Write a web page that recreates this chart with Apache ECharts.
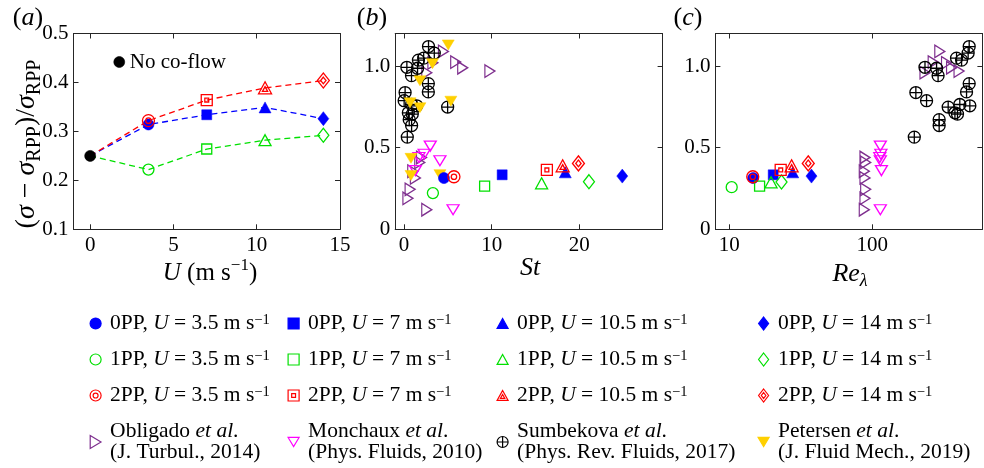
<!DOCTYPE html>
<html><head><meta charset="utf-8">
<script src="https://cdn.jsdelivr.net/npm/echarts@6/dist/echarts.min.js"></script>
<style>html,body{margin:0;padding:0;background:#fff}#c{width:984px;height:468px}</style>
</head><body><div id="c"></div>
<script>
const FONT = 'Liberation Serif';
// ---------- data ----------
// panel (a): U (m/s)
const U = [3.5, 7, 10.5, 14];
const noCoflow = [0, 0.25];
const y0PP = [0.314, 0.334, 0.349, 0.326];
const y1PP = [0.222, 0.264, 0.282, 0.292];
const y2PP = [0.322, 0.364, 0.389, 0.404];
// panel (b): St
const St0PP = [4.56, 11.2, 18.4, 24.9];
const St1PP = [3.3, 9.2, 15.7, 21.1];
const St2PP = [5.7, 16.3, 18.1, 19.9];
// panel (c): Re_lambda
const Re0PP = [14.7, 20.3, 27.8, 37.6];
const Re1PP = [10.4, 16.3, 19.6, 23.2];
const Re2PP = [14.6, 22.9, 27.3, 35.7];
const yRe1PP = [0.258, 0.264, 0.288, 0.290];
// literature
const oblSt = [4.5, 5.9, 3.3, 6.7, 9.8, 2.6, 2.0, 1.8, 1.0, 1.3, 0.7, 0.45, 2.6];
const oblRe = [297, 267, 331, 359, 405, 234, 89, 90, 88, 89, 90, 89, 88];
const oblY  = [1.09, 1.025, 1.02, 0.99, 0.97, 0.96, 0.44, 0.41, 0.356, 0.315, 0.245, 0.19, 0.12];
const monSt = [3.0, 2.3, 1.7, 4.1, 1.3, 5.6];
const monRe = [114, 115, 113, 114, 116, 114];
const monY  = [0.51, 0.46, 0.44, 0.42, 0.36, 0.12];
const sumSt = [2.8, 3.46, 2.25, 1.65, 0.33, 1.55, 0.86, 2.78, 2.78, 0.13, 0.02, 0.87, 1.45, 4.98, 0.5, 0.95, 0.6, 0.87, 0.38];
const sumRe = [477, 469, 389, 422, 234, 282, 289, 477, 457, 202, 240, 410, 482, 340, 379, 395, 294, 294, 197];
const sumY  = [1.12, 1.08, 1.049, 1.037, 0.993, 0.987, 0.942, 0.893, 0.842, 0.838, 0.788, 0.765, 0.757, 0.749, 0.714, 0.706, 0.672, 0.636, 0.565];
const petSt = [5.05, 3.25, 1.82, 0.7, 1.82, 5.35, 0.8, 0.8, 4.1];
const petY  = [1.13, 1.015, 0.91, 0.775, 0.745, 0.785, 0.435, 0.33, 0.335];
// tick values
const ticksU = [0, 5, 10, 15];
const ticksSt = [0, 10, 20];
const ticksYa = [0.1, 0.2, 0.3, 0.4, 0.5];
const ticksYbc = [0, 0.5, 1.0];

// ---------- symbols ----------
function circ(cx, cy, r) {
  const k = 0.5523 * r;
  return `M${cx-r},${cy}C${cx-r},${cy-k} ${cx-k},${cy-r} ${cx},${cy-r}C${cx+k},${cy-r} ${cx+r},${cy-k} ${cx+r},${cy}C${cx+r},${cy+k} ${cx+k},${cy+r} ${cx},${cy+r}C${cx-k},${cy+r} ${cx-r},${cy+k} ${cx-r},${cy}Z`;
}
const SYM = {
  circle: 'path://' + circ(10, 10, 10),
  dcircle: 'path://' + circ(10, 10, 10) + circ(10, 10, 4.5),
  square: 'path://M0,0L20,0L20,20L0,20Z',
  dsquare: 'path://M0,0L20,0L20,20L0,20ZM6.5,6.5L13.5,6.5L13.5,13.5L6.5,13.5Z',
  tri: 'path://M10,0L20,18L0,18Z',
  dtri: 'path://M10,0L20,18L0,18ZM10,7.2L14,14.4L6,14.4Z',
  diam: 'path://M10,0L20,13L10,26L0,13Z',
  ddiam: 'path://M10,0L20,13L10,26L0,13ZM10,7.2L14.5,13L10,18.8L5.5,13Z',
  right: 'path://M0,0L16.6,10L0,20Z',
  down: 'path://M0,0L20,0L10,16.6Z',
  oplus: 'path://' + circ(10, 10, 10) + 'M10,0L10,20M0,10L20,10'
};
const SIZE = {circle:[11,11], dcircle:[12,12], square:[10,10], dsquare:[11,11], tri:[12,11], dtri:[13,12],
  diam:[11,14], ddiam:[12,15], right:[10,12.5], down:[12,10], oplus:[12,12]};

const GROUPS = [
  {key:'e0', label:'0PP', color:'#0000ff', filled:true,  syms:['circle','square','tri','diam'], yA:y0PP, St:St0PP, Re:Re0PP, yC:y0PP},
  {key:'e1', label:'1PP', color:'#00e000', filled:false, syms:['circle','square','tri','diam'], yA:y1PP, St:St1PP, Re:Re1PP, yC:yRe1PP},
  {key:'e2', label:'2PP', color:'#ff0000', filled:false, syms:['dcircle','dsquare','dtri','ddiam'], yA:y2PP, St:St2PP, Re:Re2PP, yC:y2PP}
];
const LIT = [
  {key:'obl', color:'#7e2f8e', filled:false, sym:'right', St:oblSt, Re:oblRe, y:oblY, text:'Obligado {i|et al}.\n(J. Turbul., 2014)'},
  {key:'mon', color:'#ff00ff', filled:false, sym:'down', St:monSt, Re:monRe, y:monY, text:'Monchaux {i|et al}.\n(Phys. Fluids, 2010)'},
  {key:'sum', color:'#000000', filled:false, sym:'oplus', St:sumSt, Re:sumRe, y:sumY, text:'Sumbekova {i|et al}.\n(Phys. Rev. Fluids, 2017)'},
  {key:'pet', color:'#ffd000', filled:true, sym:'down', St:petSt, Re:null, y:petY, text:'Petersen {i|et al}.\n(J. Fluid Mech., 2019)'}
];

function style(color, filled) {
  return filled ? {color: color, borderColor: color, borderWidth: 0.5, opacity: 1}
                : {color: 'rgba(255,255,255,0)', borderColor: color, borderWidth: 1.3, opacity: 1};
}
const LABELS = {};
const series = [];
function sc(name, xi, data, sym, color, filled, z) {
  series.push({type:'scatter', name: name, xAxisIndex: xi, yAxisIndex: xi, data: data,
    symbol: SYM[sym], symbolSize: SIZE[sym], itemStyle: style(color, filled), silent: true,
    emphasis: {disabled: true}, z: z || 3});
}
// dashed lines (a)
[0, 1, 2].forEach(g => {
  const G = GROUPS[g];
  series.push({type:'line', name: '_line' + g, xAxisIndex: 0, yAxisIndex: 0, silent: true,
    data: [noCoflow].concat(U.map((u, i) => [u, G.yA[i]])), symbol: 'none', showSymbol: false,
    lineStyle: {color: G.color, width: 1.3, type: [6, 4]}, z: 2});
});
sc('No co-flow', 0, [noCoflow], 'circle', '#000', true, 4);
// literature in (b), (c)
LIT.forEach(L => {
  sc(L.key, 2, L.St.map((s, i) => [s, L.y[i]]), L.sym, L.color, L.filled, 3);
  if (L.Re) sc(L.key, 4, L.Re.map((r, i) => [r, L.y[i]]), L.sym, L.color, L.filled, 3);
  LABELS[L.key] = L.text;
});
// experiments
GROUPS.forEach(G => {
  U.forEach((u, j) => {
    const name = G.key + '_' + j;
    const sym = G.syms[j];
    sc(name, 0, [[u, G.yA[j]]], sym, G.color, G.filled, 4);
    sc(name, 2, [[G.St[j], G.yA[j]]], sym, G.color, G.filled, 4);
    sc(name, 4, [[G.Re[j], G.yC[j]]], sym, G.color, G.filled, 4);
    LABELS[name] = G.label + ', {i|U} = ' + u + ' m s{s|\u22121}';
  });
});

// ---------- axes ----------
const TICKFS = 21;
const lineC = {color: '#262626', width: 1};
function xA(gi, pos, min, max, ticks, log) {
  const a = {gridIndex: gi, type: log ? 'log' : 'value', position: pos, min: min, max: max,
    axisLine: {show: true, onZero: false, lineStyle: lineC},
    axisTick: {show: true, inside: true, length: 5, lineStyle: lineC},
    axisLabel: {show: pos === 'bottom', fontFamily: FONT, fontSize: TICKFS, color: '#000', margin: 6},
    splitLine: {show: false}, minorTick: {show: false}, minorSplitLine: {show: false}};
  if (log) { a.logBase = 10; a.axisLabel.showMinLabel = false; a.axisLabel.showMaxLabel = false; }
  else { a.axisTick.customValues = ticks; a.axisLabel.customValues = ticks; }
  return a;
}
function yA(gi, pos, min, max, ticks) {
  return {gridIndex: gi, type: 'value', position: pos, min: min, max: max,
    axisLine: {show: true, onZero: false, lineStyle: lineC},
    axisTick: {show: true, inside: true, length: 5, lineStyle: lineC, customValues: ticks},
    axisLabel: {show: pos === 'left', fontFamily: FONT, fontSize: TICKFS, color: '#000', margin: 5, customValues: ticks,
      formatter: v => (Math.abs(v) < 1e-9 ? '0' : (+v).toFixed(1))},
    splitLine: {show: false}};
}
const xAxis = [
  xA(0, 'bottom', -1, 15, ticksU), xA(0, 'top', -1, 15, ticksU),
  xA(1, 'bottom', -1, 29.5, ticksSt), xA(1, 'top', -1, 29.5, ticksSt),
  xA(2, 'bottom', 8, 590, null, true), xA(2, 'top', 8, 590, null, true)
];
const yAxis = [
  yA(0, 'left', 0.1, 0.5, ticksYa), yA(0, 'right', 0.1, 0.5, ticksYa),
  yA(1, 'left', 0, 1.2, ticksYbc), yA(1, 'right', 0, 1.2, ticksYbc),
  yA(2, 'left', 0, 1.2, ticksYbc), yA(2, 'right', 0, 1.2, ticksYbc)
];
const grid = [
  {left: 73.5, top: 33.5, width: 266.5, height: 195.8},
  {left: 395.2, top: 33.5, width: 267.4, height: 195.8},
  {left: 715.4, top: 33.5, width: 267, height: 195.8}
];

// ---------- legends ----------
const ICON = {};
GROUPS.forEach(G => G.syms.forEach((s, j) => ICON[G.key + '_' + j] = SYM[s]));
LIT.forEach(L => ICON[L.key] = SYM[L.sym]);
const LEGFS = 21.5;
const legTextStyle = {fontFamily: FONT, fontSize: LEGFS, lineHeight: 21, color: '#000', padding: [0, 0, 0, 4],
  rich: {i: {fontFamily: FONT, fontSize: LEGFS, lineHeight: 21, fontStyle: 'italic', color: '#000'},
         s: {fontFamily: FONT, fontSize: 14.5, lineHeight: 13, verticalAlign: 'top', color: '#000'}}};
const cols = [
  {left: 89.5, names: ['e0_0', 'e1_0', 'e2_0', 'obl']},
  {left: 287.5, names: ['e0_1', 'e1_1', 'e2_1', 'mon']},
  {left: 496.5, names: ['e0_2', 'e1_2', 'e2_2', 'sum']},
  {left: 757.5, names: ['e0_3', 'e1_3', 'e2_3', 'pet']}
];
const legend = cols.map(c => ({
  orient: 'vertical', left: c.left, top: 312.5, height: 200, padding: 0, itemGap: 14, itemWidth: 11, itemHeight: 13,
  selectedMode: false, symbolKeepAspect: true,
  data: c.names.map(n => ({name: n, icon: ICON[n]})),
  formatter: n => LABELS[n], textStyle: legTextStyle,
  itemStyle: {borderWidth: 1.2}
}));
legend.push({orient: 'vertical', left: 113.5, top: 51, padding: 0, itemWidth: 11, itemHeight: 11, selectedMode: false,
  data: [{name: 'No co-flow', icon: SYM.circle}], textStyle: {fontFamily: FONT, fontSize: 21, lineHeight: 22, color: '#000'},
  itemStyle: {borderWidth: 0.5}});

// ---------- titles ----------
function mkRich(fs, sfs) {
  return {
    i: {fontFamily: FONT, fontSize: fs, fontStyle: 'italic', lineHeight: fs + 7, fill: '#000'},
    sub: {fontFamily: FONT, fontSize: sfs, lineHeight: sfs, verticalAlign: 'bottom', fill: '#000'},
    isub: {fontFamily: FONT, fontSize: sfs, lineHeight: sfs, fontStyle: 'italic', verticalAlign: 'bottom', fill: '#000'},
    sup: {fontFamily: FONT, fontSize: sfs - 1, lineHeight: sfs - 1, verticalAlign: 'top', fill: '#000'}
  };
}
function txt(x, y, text, fs, sfs, rot) {
  return {type: 'text', x: x, y: y, rotation: rot || 0, silent: true,
    style: {text: text, fontFamily: FONT, fontSize: fs, lineHeight: fs + 7, fill: '#000', align: 'center', verticalAlign: 'middle', rich: mkRich(fs, sfs)}};
}
const graphic = [
  txt(28, 18, '({i|a})', 26, 18),
  txt(372, 18, '({i|b})', 26, 18),
  txt(688, 18, '({i|c})', 26, 18),
  txt(27, 144, '({i|\u03c3} \u2212 {i|\u03c3}{sub|RPP})/{i|\u03c3}{sub|RPP}', 28, 20, Math.PI / 2),
  txt(210, 273, '{i|U} (m s{sup|\u22121})', 25, 18),
  txt(530, 268, '{i|St}', 26, 18),
  txt(850, 274, '{i|Re}{isub|\u03bb}', 26, 18)
];

const chart = echarts.init(document.getElementById('c'), null, {renderer: 'canvas'});
chart.setOption({animation: false, backgroundColor: '#fff', grid, xAxis, yAxis, series, legend, graphic});
</script></body></html>
